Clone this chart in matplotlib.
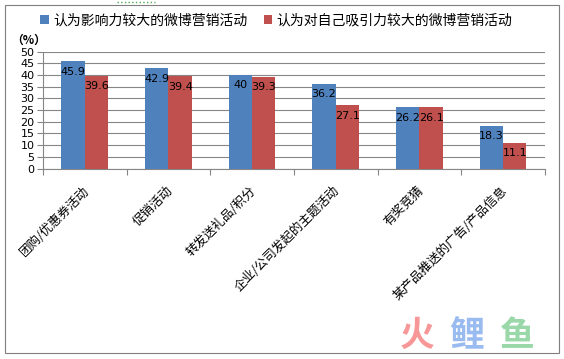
import numpy as np
import matplotlib
matplotlib.use("Agg")
import matplotlib.pyplot as plt
from matplotlib.patches import Rectangle
from matplotlib.lines import Line2D

plt.rcParams['font.family'] = ['Noto Sans CJK SC', 'DejaVu Sans']

# ── data ─────────────────────────────────────────────────────────────────────
categories = ["团购/优惠券活动", "促销活动", "转发送礼品/积分",
              "企业/公司发起的主题活动", "有奖竞猜", "某产品推送的广告/产品信息"]
influence = [45.9, 42.9, 40, 36.2, 26.2, 18.3]
attract = [39.6, 39.4, 39.3, 27.1, 26.1, 11.1]
series_names = ["认为影响力较大的微博营销活动", "认为对自己吸引力较大的微博营销活动"]
yticks = list(range(0, 51, 5))

BLUE = "#4F81BD"
RED = "#C0504D"

# ── figure ───────────────────────────────────────────────────────────────────
fig = plt.figure(figsize=(5.64, 3.59), dpi=100)
fig.patch.set_facecolor("white")
ax = fig.add_axes([0.0762, 0.5306, 0.8898, 0.3259])

x = np.arange(len(categories))
w = 0.28
b1 = ax.bar(x - w / 2, influence, w, color=BLUE, zorder=3, label=series_names[0])
b2 = ax.bar(x + w / 2, attract, w, color=RED, zorder=3, label=series_names[1])

for bars, vals in ((b1, influence), (b2, attract)):
    for r, v in zip(bars, vals):
        ax.annotate(f"{v:g}", (r.get_x() + r.get_width() / 2, v),
                    xytext=(0, -4), textcoords="offset points",
                    ha="center", va="top", fontsize=8, color="black",
                    family="DejaVu Sans", zorder=4)

ax.set_xlim(-0.5, len(categories) - 0.5)
ax.set_ylim(0, 50)
ax.set_yticks(yticks)
ax.set_yticklabels([str(t) for t in yticks], family="DejaVu Sans", fontsize=8)
ax.yaxis.grid(True, color="#868686", lw=0.8, zorder=0)
ax.tick_params(axis="y", length=4, width=0.8, color="#868686", pad=2)

# category separators as x ticks
ax.set_xticks(np.arange(len(categories) + 1) - 0.5)
ax.set_xticklabels([])
ax.tick_params(axis="x", length=4, width=0.8, color="#868686")
for i, c in enumerate(categories):
    ax.text(i - 0.03, -6.5, c, rotation=45, rotation_mode="anchor",
            ha="right", va="top", fontsize=9)

for s in ("top", "right"):
    ax.spines[s].set_visible(False)
for s in ("left", "bottom"):
    ax.spines[s].set_color("#868686")
    ax.spines[s].set_linewidth(0.8)

fig.legend(handles=[b1, b2], loc="center", bbox_to_anchor=(0.49, 0.944),
           ncol=2, frameon=False, fontsize=10, handlelength=0.6,
           handleheight=0.6, handletextpad=0.3, columnspacing=1.2)

fig.text(0.05, 0.888, "（%）", fontsize=8.5, fontweight="bold",
         ha="center", va="center")

# outer border
fig.patches.append(Rectangle((5 / 564, 1 - 353 / 359), 554 / 564, 348 / 359,
                             transform=fig.transFigure, fill=False,
                             ec="#7f7f7f", lw=0.8))
fig.lines.append(Line2D([117 / 564, 155 / 564], [1 - 2 / 359] * 2,
                        transform=fig.transFigure, color="#4caf50",
                        lw=1, ls=":"))

# watermark
for ch, col, xp in (("火", "#f78c8c", 0.74), ("鲤", "#8fb4ee", 0.828), ("鱼", "#8fd4a0", 0.917)):
    fig.text(xp, 0.065, ch, color=col, fontsize=25, fontweight="bold",
             ha="center", va="center", alpha=0.9)

fig.savefig("out.png", dpi=100)
